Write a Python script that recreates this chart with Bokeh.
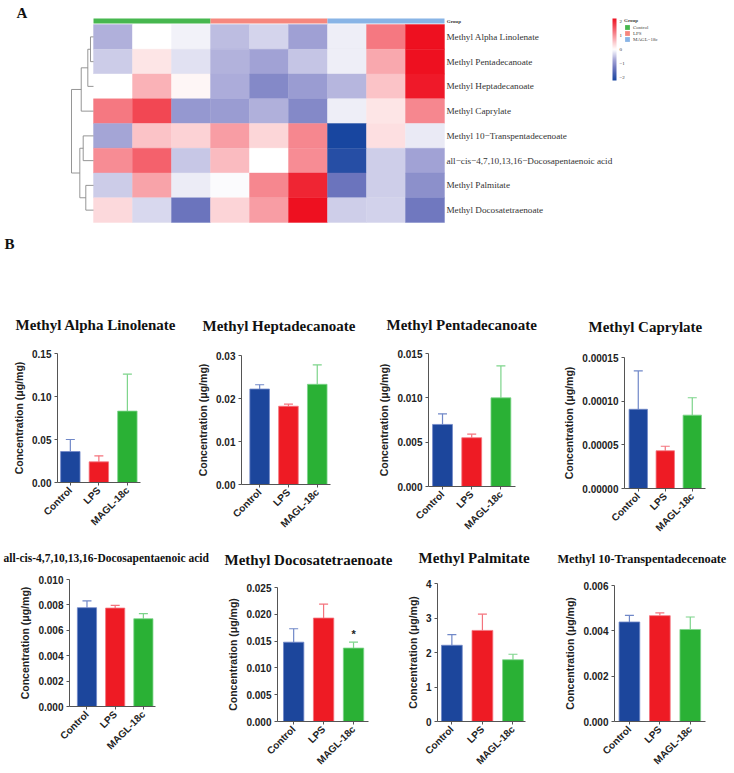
import numpy as np
from math import pi
from bokeh.plotting import figure
from bokeh.layouts import column, row
from bokeh.models import (Range1d, ColumnDataSource, LinearColorMapper, ColorBar,
                          FixedTicker, Label, Legend, LegendItem, PrintfTickFormatter)
from bokeh.core.properties import value
from bokeh.embed import file_html
from bokeh.resources import INLINE

# ---------------- Panel A: clustered heatmap (row z-scores) ----------------
samples = ["Control_1", "Control_2", "Control_3", "LPS_1", "LPS_2", "LPS_3",
           "MAGL-18c_1", "MAGL-18c_2", "MAGL-18c_3"]
sample_group = ["Control"] * 3 + ["LPS"] * 3 + ["MAGL\u221218c"] * 3
group_names = ["Control", "LPS", "MAGL\u221218c"]
group_colors = ["#47B74F", "#F6877E", "#88B4E6"]

compounds = [
    "Methyl Alpha Linolenate",
    "Methyl Pentadecanoate",
    "Methyl Heptadecanoate",
    "Methyl Caprylate",
    "Methyl 10\u2212Transpentadecenoate",
    "all\u2212cis\u22124,7,10,13,16\u2212Docosapentaenoic acid",
    "Methyl Palmitate",
    "Methyl Docosatetraenoate",
]

zscore = [
    [-0.65, 0.00, -0.12, -0.55, -0.35, -0.80, -0.15, 1.25, 2.20],
    [-0.42, 0.25, -0.25, -0.62, -0.78, -0.47, -0.15, 0.80, 2.20],
    [0.00, 0.72, 0.10, -0.68, -1.10, -0.85, -0.60, 0.55, 2.10],
    [1.25, 1.70, -0.90, -0.85, -0.65, -1.10, -0.15, 0.25, 1.10],
    [-0.75, 0.55, 0.42, 0.90, 0.38, 1.10, -2.20, 0.30, -0.18],
    [1.05, 1.45, -0.45, 0.62, 0.00, 1.05, -2.05, -0.40, -0.78],
    [-0.42, 0.85, -0.17, -0.04, 1.10, 2.00, -1.35, -0.40, -1.00],
    [0.35, -0.32, -1.35, 0.40, 0.90, 2.20, -0.40, -0.37, -1.30],
]

# row dendrogram: leaves 0-7, merged clusters numbered from 8 upward
link_left = [0, 8, 9, 4, 6, 11, 10]
link_right = [1, 2, 3, 5, 7, 12, 13]
link_height = [0.82, 1.55, 3.35, 2.81, 2.10, 3.73, 6.0]

colorbar_ticks = [-2, -1, 0, 1, 2]

# ---------------- Panel B: bar charts (mean, SD) ----------------
groups = ["Control", "LPS", "MAGL-18c"]
bar_colors = ["#1C469C", "#EE1B24", "#2AB135"]
err_colors = ["#7088C8", "#F4737D", "#7CD48A"]

alpha_linolenate_mean = [0.036, 0.024, 0.083]
alpha_linolenate_sd = [0.014, 0.007, 0.043]
heptadecanoate_mean = [0.0222, 0.0182, 0.0233]
heptadecanoate_sd = [0.0010, 0.0005, 0.0045]
pentadecanoate_mean = [0.0070, 0.0055, 0.0100]
pentadecanoate_sd = [0.0012, 0.0004, 0.0036]
caprylate_mean = [0.0000907, 0.0000432, 0.0000840]
caprylate_sd = [0.0000439, 0.0000052, 0.0000199]
docosapentaenoic_mean = [0.00778, 0.00775, 0.00691]
docosapentaenoic_sd = [0.00053, 0.00022, 0.00040]
docosatetraenoate_mean = [0.0148, 0.0193, 0.0137]
docosatetraenoate_sd = [0.0025, 0.0026, 0.0011]
palmitate_mean = [2.21, 2.64, 1.79]
palmitate_sd = [0.31, 0.47, 0.16]
transpentadecenoate_mean = [0.00439, 0.00467, 0.00406]
transpentadecenoate_sd = [0.00029, 0.00012, 0.00055]

W = 734
TOP_H = 305


def ramp(stops, n):
    ts = [s[0] for s in stops]
    cols = np.array([s[1] for s in stops], float)
    t = np.linspace(0, 1, n)
    rgb = np.stack([np.interp(t, ts, cols[:, k]) for k in range(3)], 1)
    return ["#%02x%02x%02x" % tuple(int(round(c)) for c in c3) for c3 in rgb]


palette = (ramp([(0, (24, 70, 160)), (0.4, (110, 118, 190)), (0.68, (168, 168, 216)),
                 (1, (255, 255, 255))], 128)
           + ramp([(0, (255, 255, 255)), (1, (238, 16, 32))], 128))
mapper = LinearColorMapper(palette=palette, low=-2.2, high=2.2)

# heatmap canvas: one x unit = one sample column, one y unit = one compound row
cell_w, cell_h, x0_px, y0_px = 39.0, 24.75, 93.0, 24.0
heat = figure(width=W, height=TOP_H,
              x_range=Range1d(-x0_px / cell_w, (W - x0_px) / cell_w),
              y_range=Range1d((TOP_H - y0_px) / cell_h, -y0_px / cell_h),
              x_axis_location=None, y_axis_location=None, min_border=0,
              frame_align=False, toolbar_location=None, output_backend="svg")
heat.grid.grid_line_color = None
heat.outline_line_color = None

n_rows, n_cols = len(compounds), len(samples)
cx, cy, cz = [], [], []
for r in range(n_rows):
    for c in range(n_cols):
        cx.append(c + 0.5)
        cy.append(r + 0.5)
        cz.append(zscore[r][c])
heat.rect(x="x", y="y", width=1, height=1, source=ColumnDataSource(dict(x=cx, y=cy, z=cz)),
          fill_color={"field": "z", "transform": mapper},
          line_color={"field": "z", "transform": mapper}, line_width=0.4)

# group annotation strip above the columns, one renderer per group for the legend
legend_items = []
for g, col in zip(group_names, group_colors):
    idx = [i for i, s in enumerate(sample_group) if s == g]
    r_ = heat.rect(x=[np.mean(idx) + 0.5], y=[-0.14], width=len(idx), height=0.2,
                   fill_color=col, line_color=None)
    legend_items.append(LegendItem(label=g, renderers=[r_]))
heat.text(x=[n_cols + 0.06], y=[-0.14], text=["Group"], text_font=value("Liberation Serif"),
          text_font_size="5px", text_font_style="bold", text_baseline="middle", text_color="#333")

# row labels
heat.text(x=[n_cols + 0.05] * n_rows, y=[r + 0.5 for r in range(n_rows)], text=compounds,
          text_font=value("Liberation Serif"), text_font_size="9.2px",
          text_baseline="middle", text_color="#333333")

# dendrogram drawn to the left of the heatmap
dendro_scale = 0.094
node_y = {i: i + 0.5 for i in range(n_rows)}
node_h = {i: 0.0 for i in range(n_rows)}
xs, ys = [], []
for k, (a, b, h) in enumerate(zip(link_left, link_right, link_height)):
    xa, xb, xh = -node_h[a] * dendro_scale, -node_h[b] * dendro_scale, -h * dendro_scale
    xs.append([xa, xh, xh, xb])
    ys.append([node_y[a], node_y[a], node_y[b], node_y[b]])
    nid = n_rows + k
    node_y[nid] = (node_y[a] + node_y[b]) / 2
    node_h[nid] = h
heat.multi_line(xs=xs, ys=ys, line_color="#8a8a8a", line_width=0.9)

cb = ColorBar(color_mapper=mapper, location=(612, TOP_H - 80), width=4, height=62,
              padding=0, ticker=FixedTicker(ticks=colorbar_ticks),
              major_label_overrides={-2: "\u22122", -1: "\u22121"},
              major_label_text_font_size="5px", major_label_text_font="Liberation Serif",
              major_label_text_color="#333", major_tick_line_color=None,
              label_standoff=3, bar_line_color=None, border_line_color=None,
              background_fill_alpha=0)
heat.add_layout(cb)

leg = Legend(items=legend_items, location=(624, TOP_H - 42), title="Group",
             title_text_font_size="5px", title_text_font_style="bold",
             title_text_font="Liberation Serif", title_standoff=1,
             label_text_font_size="5px", label_text_font="Liberation Serif",
             glyph_width=6, glyph_height=6, label_height=6, label_standoff=3,
             spacing=0, padding=0, margin=0, border_line_color=None,
             background_fill_alpha=0)
heat.add_layout(leg)

for txt, lx, ly in (("A", 16, 12), ("B", 4, 243)):
    heat.add_layout(Label(x=lx, y=TOP_H - ly, x_units="screen", y_units="screen", text=txt,
                          text_font="Liberation Serif", text_font_style="bold",
                          text_font_size="15px", text_baseline="middle", text_color="#111"))


def bar_panel(name, mean, sd, ymax, step, fmt, fig_x, row_top, row_h, frame, xr,
              title_x, title_size, star=None):
    L, R, T, B = frame
    fl, fr = fig_x
    p = figure(width=fr - fl, height=row_h, x_range=Range1d(*xr), y_range=Range1d(0, ymax),
               min_border_left=L - fl, min_border_right=fr - R,
               min_border_top=T - row_top, min_border_bottom=row_top + row_h - B,
               frame_align=False, toolbar_location=None, output_backend="svg")
    p.grid.grid_line_color = None
    p.outline_line_color = None
    for ax in (p.xaxis[0], p.yaxis[0]):
        ax.axis_line_color = "#555555"
        ax.major_tick_line_color = "#555555"
        ax.minor_tick_line_color = None
        ax.major_tick_out = 3
        ax.major_tick_in = 0
        ax.major_label_standoff = 3
        ax.major_label_text_font = "Liberation Sans"
        ax.major_label_text_font_style = "bold"
        ax.major_label_text_font_size = "10px"
        ax.major_label_text_color = "#222222"
    ticks = [round(v, 8) for v in np.arange(0, ymax + step / 2, step)]
    p.yaxis.ticker = FixedTicker(ticks=ticks)
    p.yaxis.formatter = PrintfTickFormatter(format=fmt)
    p.yaxis.axis_label = "Concentration (\u03bcg/mg)"
    p.yaxis.axis_label_text_font = "Liberation Sans"
    p.yaxis.axis_label_text_font_style = "bold"
    p.yaxis.axis_label_text_font_size = "10.5px"
    p.yaxis.axis_label_text_color = "#222222"
    p.yaxis.axis_label_standoff = 4
    p.xaxis.ticker = FixedTicker(ticks=list(range(len(groups))))
    p.xaxis.major_label_overrides = {i: g for i, g in enumerate(groups)}
    p.xaxis.major_label_orientation = pi / 4

    src = ColumnDataSource(dict(x=list(range(len(groups))), mean=mean,
                                top=list(np.add(mean, sd)), fill=bar_colors, err=err_colors))
    p.segment(x0="x", y0="mean", x1="x", y1="top", line_color="err", line_width=1.2, source=src)
    p.scatter(x="x", y="top", marker="dash", size=9, line_color="err", line_width=1.2, source=src)
    p.vbar(x="x", top="mean", width=0.68, fill_color="fill", line_color="err",
           line_width=0.8, source=src)
    if star is not None:
        p.text(x=[star], y=[mean[star] + sd[star]], text=["*"], y_offset=-2,
               text_align="center", text_baseline="bottom", text_font=value("Liberation Sans"),
               text_font_style="bold", text_font_size="11px", text_color="#222")

    # panel heading: a trailing empty line lifts the heading away from the frame,
    # the standoff uses whatever room is left in the top border
    border_top = T - row_top
    p.title.text = name + "\n "
    p.title.align = "left"
    p.title.offset = title_x - L
    p.title.standoff = max(0, int(border_top - 3 - 2.4 * title_size))
    p.title.text_font = "Liberation Serif"
    p.title.text_font_style = "bold"
    p.title.text_font_size = f"{title_size}px"
    p.title.text_color = "#111111"
    return p


R1_TOP, R1_H = TOP_H, 235
R2_TOP, R2_H = TOP_H + R1_H, 773 - TOP_H - R1_H

row1 = row(
    bar_panel("Methyl Alpha Linolenate", alpha_linolenate_mean, alpha_linolenate_sd, 0.15, 0.05,
              "%.2f", (0, 190), R1_TOP, R1_H, (57, 140, 353, 482), (-0.45, 2.46), 15, 15),
    bar_panel("Methyl Heptadecanoate", heptadecanoate_mean, heptadecanoate_sd, 0.03, 0.01,
              "%.2f", (190, 375), R1_TOP, R1_H, (241, 330, 355, 484), (-0.63, 2.46), 202, 15),
    bar_panel("Methyl Pentadecanoate", pentadecanoate_mean, pentadecanoate_sd, 0.015, 0.005,
              "%.3f", (375, 560), R1_TOP, R1_H, (427, 515, 353, 486), (-0.48, 2.5), 385, 15),
    bar_panel("Methyl Caprylate", caprylate_mean, caprylate_sd, 0.00015, 0.00005,
              "%.5f", (560, 734), R1_TOP, R1_H, (617, 705, 357, 491), (-0.51, 2.49), 581, 15),
)
row2 = row(
    bar_panel("all-cis-4,7,10,13,16-Docosapentaenoic acid", docosapentaenoic_mean,
              docosapentaenoic_sd, 0.010, 0.002, "%.3f", (0, 212), R2_TOP, R2_H,
              (69, 155, 579, 706), (-0.62, 2.43), 3, 11.5),
    bar_panel("Methyl Docosatetraenoate", docosatetraenoate_mean, docosatetraenoate_sd, 0.025,
              0.005, "%.3f", (212, 400), R2_TOP, R2_H, (277, 368, 587, 722), (-0.54, 2.5),
              224, 15, star=2),
    bar_panel("Methyl Palmitate", palmitate_mean, palmitate_sd, 4, 1, "%d", (400, 550),
              R2_TOP, R2_H, (437, 525, 583, 721), (-0.47, 2.41), 418, 15),
    bar_panel("Methyl 10-Transpentadecenoate", transpentadecenoate_mean, transpentadecenoate_sd,
              0.006, 0.002, "%.3f", (550, 734), R2_TOP, R2_H, (614, 705, 585, 722),
              (-0.49, 2.5), 557, 12.3),
)

layout = column(heat, row1, row2)
open("out.html", "w").write(file_html(layout, INLINE))
